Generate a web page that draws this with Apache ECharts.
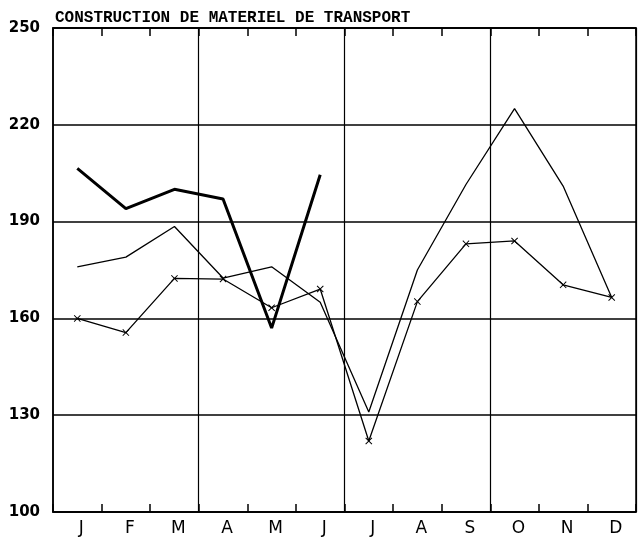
<!DOCTYPE html>
<html><head><meta charset="utf-8">
<script src="https://cdn.jsdelivr.net/npm/echarts@6/dist/echarts.min.js"></script>
<style>html,body{margin:0;padding:0;background:#fff}#c{width:641px;height:542px}</style>
</head><body><div id="c"></div>
<script>
const months = ['J','F','M','A','M','J','J','A','S','O','N','D'];
const yTicks = [100,130,160,190,220,250];
const thickSeries = [206.5,194,200,197,157,204.5];
const thinSeries = [176,179,188.5,172.5,176,165,131,175,201.5,225,201,166.5];
const crossSeries = [160,155.6,172.4,172.2,163.3,169.1,122,165.2,183.1,184,170.4,166.5];
const title = 'CONSTRUCTION DE MATERIEL DE TRANSPORT';

const chart = echarts.init(document.getElementById('c'));
const xBase = {
  type:'category', data: months, boundaryGap:true,
  axisLine:{show:true,lineStyle:{color:'#000',width:1.5}},
  axisTick:{show:true,inside:true,length:8,interval:0,lineStyle:{color:'#000',width:1.5}}
};
chart.setOption({
  animation:false,
  backgroundColor:'#fff',
  title:{text:title,left:50,top:5,textStyle:{fontFamily:'Liberation Mono',fontWeight:'bold',fontSize:16,color:'#000'}},
  grid:{left:53,right:5,top:28,bottom:30,show:true,borderColor:'#000',borderWidth:1.5,backgroundColor:'transparent'},
  xAxis:[
    Object.assign({}, xBase, {position:'bottom',
      axisLabel:{color:'#000',fontFamily:'DejaVu Sans',fontSize:17,margin:8,interval:0,padding:[0,0,0,8]},
      splitLine:{show:true,interval:function(i){return i===3||i===6||i===9;},lineStyle:{color:'#000',width:1.2}}}),
    Object.assign({}, xBase, {position:'top',axisLabel:{show:false},splitLine:{show:false}})
  ],
  yAxis:{type:'value',min:yTicks[0],max:yTicks[yTicks.length-1],interval:30,
    axisLine:{show:true,lineStyle:{color:'#000',width:1.5}},
    axisTick:{show:false},
    axisLabel:{color:'#000',fontFamily:'DejaVu Sans',fontWeight:'bold',fontSize:15,margin:13},
    splitLine:{show:true,lineStyle:{color:'#000',width:1.5}}},
  series:[
    {type:'line',data:thickSeries,symbol:'none',lineStyle:{color:'#000',width:3},z:3},
    {type:'line',data:thinSeries,symbol:'none',lineStyle:{color:'#000',width:1.3},z:2},
    {type:'line',data:crossSeries,symbol:'path://M0,1L1,0L5,4L9,0L10,1L6,5L10,9L9,10L5,6L1,10L0,9L4,5Z',symbolSize:7,
      itemStyle:{color:'#000'},lineStyle:{color:'#000',width:1.3},z:2}
  ]
});
</script></body></html>
